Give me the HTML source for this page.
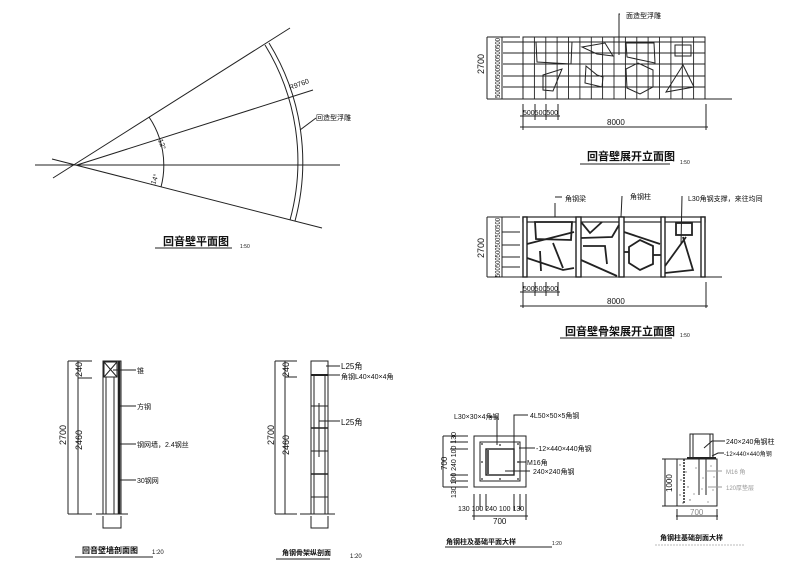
<!DOCTYPE html>
<html><head><meta charset="utf-8"><style>
html,body{margin:0;padding:0;background:#fff;}
svg{display:block;}
text{font-family:"Liberation Sans","Noto Sans CJK SC",sans-serif;fill:#111;}
.t{font-size:7px;}
.ti{font-size:11px;font-weight:bold;}
</style></head><body>
<svg width="800" height="571" viewBox="0 0 800 571" xmlns="http://www.w3.org/2000/svg" stroke="#222" fill="none" stroke-width="1">
<!-- PLAN VIEW -->
<line x1="35" y1="165" x2="340" y2="165"/>
<line x1="53" y1="178" x2="290" y2="28"/>
<line x1="52" y1="159" x2="322" y2="228"/>
<line x1="77" y1="165" x2="313" y2="90"/>
<path d="M265 45 A222 222 0 0 1 290 220"/>
<path d="M269 43 A227 227 0 0 1 295 221"/>
<path d="M149 117 A86 86 0 0 1 161 187"/>
<line x1="300" y1="130" x2="316" y2="118"/>
<text class="t" x="290" y="90" transform="rotate(-20 290 90)" stroke="none">R9760</text>
<text class="t" x="316" y="120" stroke="none">回造型浮雕</text>
<text class="t" x="158" y="140" transform="rotate(70 158 140)" stroke="none">12°</text>
<text class="t" x="155" y="185" transform="rotate(-70 155 185)" stroke="none">14°</text>
<text class="ti" x="163" y="245" stroke="none">回音壁平面图</text>
<line x1="155" y1="248" x2="232" y2="248"/>
<text x="240" y="248" stroke="none" style="font-size:5px">1:50</text>

<!-- ELEVATION 1 -->
<g>
<rect x="523" y="37" width="182" height="62"/>
<g stroke-width="0.9">
<line x1="534.4" y1="37" x2="534.4" y2="99"/><line x1="545.8" y1="37" x2="545.8" y2="99"/><line x1="557.1" y1="37" x2="557.1" y2="99"/><line x1="568.5" y1="37" x2="568.5" y2="99"/><line x1="579.9" y1="37" x2="579.9" y2="99"/><line x1="591.3" y1="37" x2="591.3" y2="99"/><line x1="602.6" y1="37" x2="602.6" y2="99"/><line x1="614" y1="37" x2="614" y2="99"/><line x1="625.4" y1="37" x2="625.4" y2="99"/><line x1="636.8" y1="37" x2="636.8" y2="99"/><line x1="648.1" y1="37" x2="648.1" y2="99"/><line x1="659.5" y1="37" x2="659.5" y2="99"/><line x1="670.9" y1="37" x2="670.9" y2="99"/><line x1="682.3" y1="37" x2="682.3" y2="99"/><line x1="693.6" y1="37" x2="693.6" y2="99"/>
<line x1="503" y1="42" x2="705" y2="42"/><line x1="503" y1="53" x2="705" y2="53"/><line x1="503" y1="64" x2="705" y2="64"/><line x1="503" y1="76" x2="705" y2="76"/><line x1="503" y1="87" x2="705" y2="87"/>
</g>
<line x1="487" y1="37" x2="520" y2="37"/>
<line x1="487" y1="99" x2="732" y2="99"/>
<line x1="487" y1="37" x2="487" y2="99"/>
<line x1="502" y1="37" x2="502" y2="99"/>
<text class="t" x="484" y="74" transform="rotate(-90 484 74)" stroke="none" style="font-size:9px">2700</text>
<text x="500" y="98" transform="rotate(-90 500 98)" stroke="none" style="font-size:7px" textLength="60" lengthAdjust="spacingAndGlyphs">500500500500500500</text>
<polygon points="536,42 572,42 571,64 537,62"/>
<polygon points="582,47 605,43 613,56 597,54"/>
<polygon points="626,43 654,43 655,63 627,57"/>
<rect x="675" y="45" width="16" height="11"/>
<polygon points="543,75 562,69 553,91 543,90"/>
<polygon points="586,66 597,75 603,77 602,87 585,83"/>
<polygon points="626,69 638,63 653,70 653,87 640,94 627,88"/>
<polygon points="683,65 694,87 666,92"/>
<polyline points="620,14 619,14 619,55"/>
<text class="t" x="626" y="18" stroke="none">面造型浮雕</text>
<line x1="523" y1="104" x2="523" y2="130"/><line x1="535" y1="104" x2="535" y2="120"/><line x1="546" y1="104" x2="546" y2="120"/><line x1="558" y1="104" x2="558" y2="120"/><line x1="706" y1="104" x2="706" y2="130"/>
<line x1="520" y1="116" x2="560" y2="116"/>
<line x1="520" y1="127" x2="708" y2="127"/>
<text x="523" y="115" stroke="none" style="font-size:7px">500500500</text>
<text x="607" y="125" stroke="none" style="font-size:8px">8000</text>
<text class="ti" x="587" y="160" stroke="none">回音壁展开立面图</text>
<line x1="580" y1="164" x2="670" y2="164"/>
<text x="680" y="164" stroke="none" style="font-size:5px">1:50</text>
</g>

<!-- ELEVATION 2 -->
<g>
<rect x="523" y="217" width="182" height="60"/>
<rect x="523" y="217" width="182" height="5" stroke-width="1.2"/>
<g fill="#fff" stroke-width="1.4">
<rect x="523" y="217" width="4" height="60"/><rect x="576" y="217" width="5" height="60"/><rect x="619" y="217" width="5" height="60"/><rect x="661" y="217" width="4" height="60"/><rect x="701" y="217" width="4" height="60"/>
</g>
<line x1="487" y1="277" x2="722" y2="277"/>
<line x1="487" y1="217" x2="487" y2="277"/>
<line x1="502" y1="217" x2="502" y2="277"/>
<line x1="487" y1="217" x2="520" y2="217"/>
<line x1="502" y1="232" x2="520" y2="232"/><line x1="502" y1="245" x2="520" y2="245"/><line x1="502" y1="257" x2="520" y2="257"/><line x1="502" y1="267" x2="520" y2="267"/>
<text x="484" y="258" transform="rotate(-90 484 258)" stroke="none" style="font-size:9px">2700</text>
<text x="500" y="277" transform="rotate(-90 500 277)" stroke="none" style="font-size:7px" textLength="59" lengthAdjust="spacingAndGlyphs">500500500500500500</text>
<g stroke-width="1.8">
<polygon points="535,222 572,222 571,240 536,239"/>
<polyline points="527,244 574,232"/>
<polyline points="527,258 563,270 574,268"/>
<polyline points="540,251 541,271"/>
<polyline points="553,243 563,268"/>
<polyline points="581,222 590,233 602,222"/>
<polyline points="581,238 612,237 619,225"/>
<polyline points="583,246 605,246 607,264"/>
<polyline points="581,260 617,276"/>
<polyline points="624,232 660,244"/>
<polygon points="629,247 640,240 653,246 653,264 640,270 629,263"/>
<polyline points="624,252 629,252"/><polyline points="653,255 661,255"/>
<rect x="676" y="223" width="16" height="12"/>
<polyline points="683,237 693,270 665,273"/>
<polyline points="665,266 686,237"/>
</g>
<polyline points="555,203 555,217"/><line x1="555" y1="197" x2="562" y2="197"/>
<polyline points="622,196 621,217"/>
<polyline points="682,196 681,244"/>
<text class="t" x="565" y="201" stroke="none">角钢梁</text>
<text class="t" x="630" y="199" stroke="none">角钢柱</text>
<text class="t" x="688" y="201" stroke="none">L30角钢支撑，来往均同</text>
<line x1="523" y1="282" x2="523" y2="308"/><line x1="535" y1="282" x2="535" y2="296"/><line x1="546" y1="282" x2="546" y2="296"/><line x1="558" y1="282" x2="558" y2="296"/><line x1="706" y1="282" x2="706" y2="308"/>
<line x1="520" y1="292" x2="560" y2="292"/>
<line x1="520" y1="306" x2="708" y2="306"/>
<text x="523" y="291" stroke="none" style="font-size:7px">500500500</text>
<text x="607" y="304" stroke="none" style="font-size:8px">8000</text>
<text class="ti" x="565" y="335" stroke="none">回音壁骨架展开立面图</text>
<line x1="560" y1="338" x2="672" y2="338"/>
<text x="680" y="337" stroke="none" style="font-size:5px">1:50</text>
</g>

<!-- SECTION 1 -->
<g>
<rect x="103" y="361" width="18" height="153"/>
<rect x="104" y="362" width="13" height="15"/>
<line x1="104" y1="362" x2="117" y2="377"/><line x1="117" y1="362" x2="104" y2="377"/>
<line x1="119" y1="361" x2="119" y2="514" stroke-width="2.5"/>
<line x1="106" y1="377" x2="106" y2="514"/><line x1="114" y1="377" x2="114" y2="514"/>
<polyline points="103,516 103,528 121,528 121,516"/>
<line x1="68" y1="361" x2="68" y2="514"/><line x1="78" y1="361" x2="78" y2="514"/>
<line x1="68" y1="361" x2="92" y2="361"/><line x1="78" y1="378" x2="92" y2="378"/>
<line x1="68" y1="514" x2="92" y2="514"/><line x1="96" y1="514" x2="128" y2="514"/>
<text x="66" y="445" transform="rotate(-90 66 445)" stroke="none" style="font-size:9px">2700</text>
<text x="82" y="377" transform="rotate(-90 82 377)" stroke="none" style="font-size:9px">240</text>
<text x="82" y="450" transform="rotate(-90 82 450)" stroke="none" style="font-size:9px">2460</text>
<line x1="113" y1="370" x2="136" y2="370"/><line x1="118" y1="406" x2="136" y2="406"/><line x1="120" y1="444" x2="136" y2="444"/><line x1="120" y1="480" x2="136" y2="480"/>
<text class="t" x="137" y="373" stroke="none">锥</text>
<text class="t" x="137" y="409" stroke="none">方钢</text>
<text class="t" x="137" y="447" stroke="none">钢网墙，2.4钢丝</text>
<text class="t" x="137" y="483" stroke="none">30钢网</text>
<text x="82" y="553" stroke="none" style="font-size:8px;font-weight:bold">回音壁墙剖面图</text>
<line x1="75" y1="557" x2="153" y2="557"/>
<text x="152" y="554" stroke="none" style="font-size:6px">1:20</text>
</g>

<!-- SECTION 2 -->
<g>
<rect x="311" y="361" width="17" height="153"/>
<line x1="314" y1="375" x2="314" y2="514"/><line x1="325" y1="375" x2="325" y2="514"/>
<line x1="311" y1="375" x2="328" y2="375" stroke-width="2"/>
<line x1="311" y1="406" x2="328" y2="406"/><line x1="311" y1="428" x2="328" y2="428" stroke-width="1.5"/><line x1="311" y1="451" x2="328" y2="451"/><line x1="311" y1="474" x2="328" y2="474" stroke-width="1.5"/><line x1="311" y1="497" x2="328" y2="497"/>
<line x1="319" y1="403" x2="319" y2="457"/>
<polyline points="311,516 311,528 328,528 328,516"/>
<line x1="275" y1="361" x2="275" y2="514"/><line x1="285" y1="361" x2="285" y2="514"/>
<line x1="275" y1="361" x2="297" y2="361"/><line x1="285" y1="377" x2="297" y2="377"/>
<line x1="275" y1="514" x2="297" y2="514"/><line x1="300" y1="514" x2="335" y2="514"/>
<text x="274" y="445" transform="rotate(-90 274 445)" stroke="none" style="font-size:9px">2700</text>
<text x="289" y="377" transform="rotate(-90 289 377)" stroke="none" style="font-size:9px">240</text>
<text x="289" y="455" transform="rotate(-90 289 455)" stroke="none" style="font-size:9px">2460</text>
<line x1="326" y1="366" x2="340" y2="366"/><line x1="328" y1="375" x2="340" y2="375"/><line x1="319" y1="421" x2="340" y2="421"/>
<text x="341" y="369" stroke="none" style="font-size:8px">L25角</text>
<text x="341" y="379" stroke="none" style="font-size:7px">角钢L40×40×4角</text>
<text x="341" y="425" stroke="none" style="font-size:8px">L25角</text>
<text x="282" y="555" stroke="none" style="font-size:7px;font-weight:bold">角钢骨架纵剖面</text>
<line x1="276" y1="559" x2="330" y2="559"/>
<text x="350" y="558" stroke="none" style="font-size:6px">1:20</text>
</g>

<!-- PLAN DETAIL -->
<g>
<rect x="474" y="436" width="52" height="51"/>
<rect x="480" y="442" width="40" height="39"/>
<rect x="486" y="449" width="28" height="26" stroke-width="1.4"/>
<line x1="488" y1="450" x2="488" y2="474" stroke-width="1.5"/>
<g fill="#222" stroke="none">
<circle cx="482" cy="444" r="0.9"/><circle cx="518" cy="444" r="0.9"/><circle cx="482" cy="479" r="0.9"/><circle cx="518" cy="479" r="0.9"/><circle cx="500" cy="445" r="0.9"/><circle cx="500" cy="479" r="0.9"/><circle cx="482" cy="462" r="0.9"/><circle cx="518" cy="462" r="0.9"/>
</g>
<line x1="443" y1="436" x2="443" y2="487"/>
<line x1="443" y1="436" x2="468" y2="436"/><line x1="450" y1="442" x2="468" y2="442"/><line x1="450" y1="449" x2="468" y2="449"/><line x1="450" y1="475" x2="468" y2="475"/><line x1="450" y1="481" x2="468" y2="481"/><line x1="443" y1="487" x2="468" y2="487"/>
<text x="447" y="470" transform="rotate(-90 447 470)" stroke="none" style="font-size:8px">700</text>
<text x="456" y="498" transform="rotate(-90 456 498)" stroke="none" style="font-size:7px" textLength="66" lengthAdjust="spacingAndGlyphs">130 100 240 100 130</text>
<line x1="474" y1="494" x2="474" y2="520"/><line x1="480" y1="494" x2="480" y2="510"/><line x1="486" y1="494" x2="486" y2="510"/><line x1="514" y1="494" x2="514" y2="510"/><line x1="520" y1="494" x2="520" y2="510"/><line x1="526" y1="494" x2="526" y2="520"/>
<line x1="472" y1="516" x2="528" y2="516"/>
<text x="458" y="511" stroke="none" style="font-size:7px">130 100 240 100 130</text>
<text x="493" y="524" stroke="none" style="font-size:8px">700</text>
<polyline points="497,445 497,417 490,417"/>
<polyline points="514,449 514,415 528,415"/>
<line x1="519" y1="448" x2="535" y2="448"/><line x1="518" y1="462" x2="526" y2="462"/><line x1="505" y1="471" x2="530" y2="471"/>
<text x="454" y="419" stroke="none" style="font-size:7px">L30×30×4角钢</text>
<text x="530" y="418" stroke="none" style="font-size:7px">4L50×50×5角钢</text>
<text x="536" y="451" stroke="none" style="font-size:7px">-12×440×440角钢</text>
<text x="527" y="465" stroke="none" style="font-size:7px">M16角</text>
<text x="533" y="474" stroke="none" style="font-size:7px">240×240角钢</text>
<text x="446" y="544" stroke="none" style="font-size:7px;font-weight:bold">角钢柱及基础平面大样</text>
<line x1="445" y1="547" x2="552" y2="547"/>
<text x="552" y="545" stroke="none" style="font-size:5px">1:20</text>
</g>

<!-- FOUNDATION DETAIL -->
<g>
<rect x="677" y="459" width="40" height="47"/>
<rect x="690" y="434" width="23" height="25"/>
<line x1="693" y1="434" x2="693" y2="459"/><line x1="710" y1="434" x2="710" y2="459"/>
<line x1="687" y1="458" x2="716" y2="458" stroke-width="2"/>
<line x1="684" y1="459" x2="684" y2="503" stroke-width="1.5" stroke-dasharray="2,1"/>
<line x1="699" y1="459" x2="699" y2="495"/>
<line x1="706" y1="459" x2="706" y2="495"/>
<g fill="#666" stroke="none">
<circle cx="680" cy="465" r="0.7"/><circle cx="686" cy="472" r="0.7"/><circle cx="681" cy="480" r="0.7"/><circle cx="688" cy="487" r="0.7"/><circle cx="680" cy="495" r="0.7"/><circle cx="690" cy="500" r="0.7"/><circle cx="696" cy="468" r="0.6"/><circle cx="703" cy="478" r="0.6"/><circle cx="711" cy="466" r="0.6"/><circle cx="713" cy="490" r="0.6"/><circle cx="694" cy="494" r="0.6"/><circle cx="708" cy="502" r="0.6"/><circle cx="683" cy="503" r="0.7"/><circle cx="702" cy="489" r="0.6"/><circle cx="714" cy="477" r="0.6"/>
</g>
<line x1="665" y1="459" x2="665" y2="506"/>
<line x1="662" y1="459" x2="677" y2="459"/><line x1="662" y1="506" x2="677" y2="506"/>
<text x="672" y="492" transform="rotate(-90 672 492)" stroke="none" style="font-size:8px">1000</text>
<line x1="677" y1="509" x2="677" y2="520"/><line x1="717" y1="509" x2="717" y2="520"/>
<line x1="676" y1="516" x2="718" y2="516"/>
<text x="690" y="515" stroke="none" style="font-size:8px;fill:#888">700</text>
<polyline points="704,448 712,441 725,441"/>
<polyline points="712,456 718,453 724,453"/>
<line x1="706" y1="471" x2="722" y2="471" stroke="#999"/>
<line x1="708" y1="487" x2="722" y2="487" stroke="#999"/>
<text x="726" y="444" stroke="none" style="font-size:7px">240×240角钢柱</text>
<text x="724" y="456" stroke="none" style="font-size:6px">-12×440×440角钢</text>
<text x="726" y="474" stroke="none" style="font-size:6px;fill:#999">M16 角</text>
<text x="726" y="490" stroke="none" style="font-size:6px;fill:#999">120厚垫层</text>
<text x="660" y="540" stroke="none" style="font-size:7px;font-weight:bold">角钢柱基础剖面大样</text>
<line x1="655" y1="545" x2="745" y2="545" stroke="#bbb" stroke-dasharray="2,1"/>
</g>
</svg>
</body></html>
